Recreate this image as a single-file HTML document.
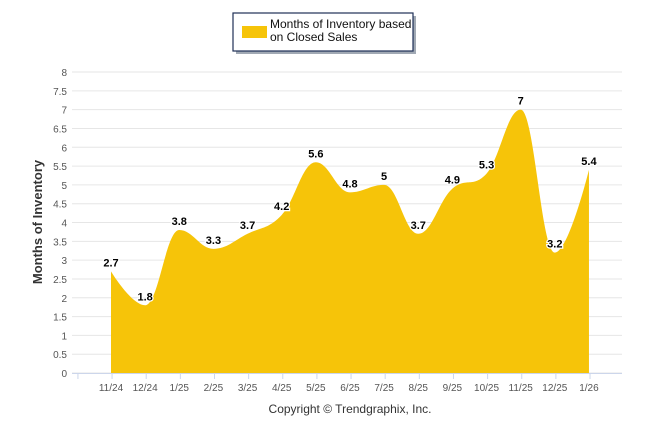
<!DOCTYPE html>
<html><head><meta charset="utf-8"><style>
body{margin:0;background:#fff;font-family:"Liberation Sans",Arial,sans-serif;}
svg text{font-family:"Liberation Sans",Arial,sans-serif;}
</style></head><body>
<svg id="chart" width="646" height="434" xmlns="http://www.w3.org/2000/svg">
<g>
<rect x="236" y="16" width="180" height="38" fill="#44546a" opacity="0.5"/>
<rect x="233" y="13" width="180" height="38" fill="#fff" stroke="#1f3056" stroke-width="1.2"/>
<rect x="242" y="26" width="25" height="12" fill="#f6c409"/>
<text x="270" y="28" font-size="12" fill="#111">Months of Inventory based</text>
<text x="270" y="41" font-size="12" fill="#111">on Closed Sales</text>
</g>
<g id="grid"></g><g id="series"></g><g id="labels"></g><g id="axes"></g>
<text transform="translate(42,222) rotate(-90)" text-anchor="middle" font-size="13" font-weight="bold" fill="#333">Months of Inventory</text>
<text x="350" y="413" text-anchor="middle" font-size="12" fill="#333">Copyright © Trendgraphix, Inc.</text>
</svg>
<script>
const categories=["11/24","12/24","1/25","2/25","3/25","4/25","5/25","6/25","7/25","8/25","9/25","10/25","11/25","12/25","1/26"];
const values=[2.7,1.8,3.8,3.3,3.7,4.2,5.6,4.8,5,3.7,4.9,5.3,7,3.2,5.4];
const yTicks=[0,0.5,1,1.5,2,2.5,3,3.5,4,4.5,5,5.5,6,6.5,7,7.5,8];
const NS="http://www.w3.org/2000/svg";
const x0=111,dx=34.14,yb=373,yt=72,ymax=8;
const X=i=>x0+i*dx, Y=v=>yb-(v/ymax)*(yb-yt);
function mk(t,a,p){const e=document.createElementNS(NS,t);for(const k in a)e.setAttribute(k,a[k]);p.appendChild(e);return e;}
const grid=document.getElementById('grid'),axes=document.getElementById('axes'),ser=document.getElementById('series'),lab=document.getElementById('labels');
yTicks.forEach(v=>{
 const l=mk('line',{x1:72,x2:622,y1:Y(v),y2:Y(v),stroke:'#e6e6e6','stroke-width':1},grid);
 
 
 const t=mk('text',{x:67,y:Y(v)+4,'text-anchor':'end','font-size':10,fill:'#555'},axes);t.textContent=v;
 
 
});
const ax=mk('line',{x1:72,x2:622,y1:yb+0.5,y2:yb+0.5,stroke:'#ccd6eb'},axes);


for(let i=0;i<=categories.length;i++){const tk=mk('line',{x1:X(i)-dx/2-16,x2:X(i)-dx/2-16,y1:yb,y2:yb+6,stroke:'#ccd6eb'},axes);
 
 }
categories.forEach((c,i)=>{const t=mk('text',{x:X(i),y:391,'text-anchor':'middle','font-size':10,fill:'#555'},axes);t.textContent=c;
 
 });
// Highcharts-like spline
const pts=values.map((v,i)=>[X(i),Y(v)]);
let d=`M${pts[0][0]},${pts[0][1]}`;
const sm=1.5;
function ctrl(i){const p=pts[i],a=pts[i-1],b=pts[i+1];
 let lx=(sm*p[0]+a[0])/(sm+1),ly=(sm*p[1]+a[1])/(sm+1),rx=(sm*p[0]+b[0])/(sm+1),ry=(sm*p[1]+b[1])/(sm+1);
 const cor=((ry-ly)*(rx-p[0]))/(rx-lx)+p[1]-ry;ly+=cor;ry+=cor;
 if(ly>Math.max(a[1],p[1])){ly=Math.max(a[1],p[1]);ry=2*p[1]-ly;}else if(ly<Math.min(a[1],p[1])){ly=Math.min(a[1],p[1]);ry=2*p[1]-ly;}
 if(ry>Math.max(b[1],p[1])){ry=Math.max(b[1],p[1]);ly=2*p[1]-ry;}else if(ry<Math.min(b[1],p[1])){ry=Math.min(b[1],p[1]);ly=2*p[1]-ry;}
 return [[lx,ly],[rx,ry]];}
const cs=pts.map((p,i)=>(i>0&&i<pts.length-1)?ctrl(i):[[p[0],p[1]],[p[0],p[1]]]);
for(let i=1;i<pts.length;i++){const c1=cs[i-1][1],c2=cs[i][0];d+=` C${c1[0]},${c1[1]} ${c2[0]},${c2[1]} ${pts[i][0]},${pts[i][1]}`;}
const area=mk('path',{d:d+` L${pts[pts.length-1][0]},${yb} L${pts[0][0]},${yb} Z`,fill:'#f6c409'},ser);


values.forEach((v,i)=>{const t=mk('text',{x:X(i),y:Y(v)-5,'text-anchor':'middle','font-size':11,'font-weight':'bold',fill:'#000',stroke:'#fff','stroke-width':2.5,'paint-order':'stroke'},lab);t.textContent=v;
 
 });
</script>
</body></html>
